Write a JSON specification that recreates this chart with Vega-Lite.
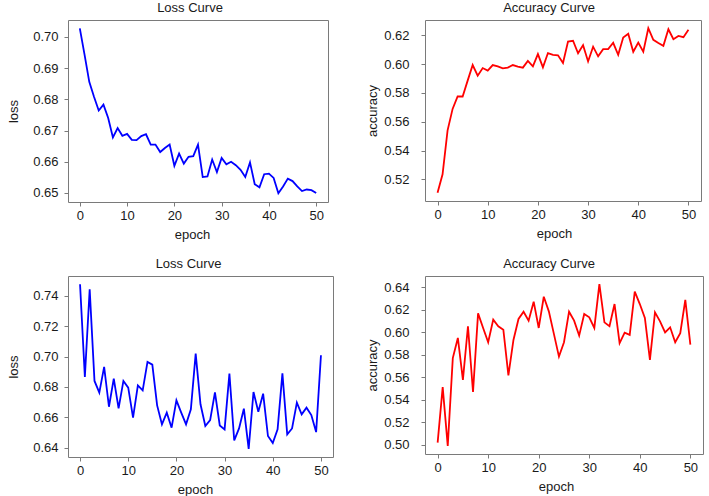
{
  "$schema": "https://vega.github.io/schema/vega-lite/v6.json",
  "padding": {"left": 7, "top": 1, "right": 0, "bottom": 0},
  "background": "white",
  "bounds": "flush",
  "columns": 2,
  "spacing": {"row": 74, "column": 92},
  "config": {
    "font": "Liberation Sans",
    "view": {"stroke": "#7a7a7a", "strokeWidth": 1},
    "axis": {"grid": false, "domain": false, "tickColor": "#7a7a7a", "tickSize": 4, "labelFontSize": 13, "titleFontSize": 13, "labelColor": "#1a1a1a", "titleColor": "#1a1a1a", "titleFontWeight": "normal", "labelPadding": 3},
    "axisY": {"labelPadding": 6, "titlePadding": 12},
    "axisX": {"titlePadding": 6},
    "title": {"fontSize": 13, "fontWeight": "normal", "color": "#1a1a1a", "offset": 5, "baseline": "alphabetic"}
  },
  "datasets": {
    "loss1": [
      {"epoch":0,"loss":0.7027},{"epoch":1,"loss":0.6943},{"epoch":2,"loss":0.6856},{"epoch":3,"loss":0.6808},{"epoch":4,"loss":0.6764},{"epoch":5,"loss":0.6783},{"epoch":6,"loss":0.6740},{"epoch":7,"loss":0.6678},{"epoch":8,"loss":0.6708},{"epoch":9,"loss":0.6683},{"epoch":10,"loss":0.6689},{"epoch":11,"loss":0.6670},{"epoch":12,"loss":0.6669},{"epoch":13,"loss":0.6682},{"epoch":14,"loss":0.6688},{"epoch":15,"loss":0.6655},{"epoch":16,"loss":0.6655},{"epoch":17,"loss":0.6631},{"epoch":18,"loss":0.6644},{"epoch":19,"loss":0.6655},{"epoch":20,"loss":0.6587},{"epoch":21,"loss":0.6626},{"epoch":22,"loss":0.6594},{"epoch":23,"loss":0.6616},{"epoch":24,"loss":0.6618},{"epoch":25,"loss":0.6655},{"epoch":26,"loss":0.6551},{"epoch":27,"loss":0.6553},{"epoch":28,"loss":0.6607},{"epoch":29,"loss":0.6567},{"epoch":30,"loss":0.6612},{"epoch":31,"loss":0.6592},{"epoch":32,"loss":0.6600},{"epoch":33,"loss":0.6589},{"epoch":34,"loss":0.6574},{"epoch":35,"loss":0.6551},{"epoch":36,"loss":0.6598},{"epoch":37,"loss":0.6528},{"epoch":38,"loss":0.6518},{"epoch":39,"loss":0.6560},{"epoch":40,"loss":0.6562},{"epoch":41,"loss":0.6548},{"epoch":42,"loss":0.6499},{"epoch":43,"loss":0.6521},{"epoch":44,"loss":0.6546},{"epoch":45,"loss":0.6538},{"epoch":46,"loss":0.6521},{"epoch":47,"loss":0.6506},{"epoch":48,"loss":0.6511},{"epoch":49,"loss":0.6509},{"epoch":50,"loss":0.6500}
    ],
    "acc1": [
      {"epoch":0,"accuracy":0.5108},{"epoch":1,"accuracy":0.5236},{"epoch":2,"accuracy":0.5540},{"epoch":3,"accuracy":0.5689},{"epoch":4,"accuracy":0.5775},{"epoch":5,"accuracy":0.5775},{"epoch":6,"accuracy":0.5885},{"epoch":7,"accuracy":0.5993},{"epoch":8,"accuracy":0.5919},{"epoch":9,"accuracy":0.5972},{"epoch":10,"accuracy":0.5954},{"epoch":11,"accuracy":0.5993},{"epoch":12,"accuracy":0.5984},{"epoch":13,"accuracy":0.5970},{"epoch":14,"accuracy":0.5975},{"epoch":15,"accuracy":0.5993},{"epoch":16,"accuracy":0.5982},{"epoch":17,"accuracy":0.5975},{"epoch":18,"accuracy":0.6021},{"epoch":19,"accuracy":0.5984},{"epoch":20,"accuracy":0.6069},{"epoch":21,"accuracy":0.5977},{"epoch":22,"accuracy":0.6076},{"epoch":23,"accuracy":0.6064},{"epoch":24,"accuracy":0.6060},{"epoch":25,"accuracy":0.6007},{"epoch":26,"accuracy":0.6156},{"epoch":27,"accuracy":0.6161},{"epoch":28,"accuracy":0.6074},{"epoch":29,"accuracy":0.6131},{"epoch":30,"accuracy":0.6018},{"epoch":31,"accuracy":0.6120},{"epoch":32,"accuracy":0.6053},{"epoch":33,"accuracy":0.6103},{"epoch":34,"accuracy":0.6103},{"epoch":35,"accuracy":0.6147},{"epoch":36,"accuracy":0.6064},{"epoch":37,"accuracy":0.6184},{"epoch":38,"accuracy":0.6209},{"epoch":39,"accuracy":0.6085},{"epoch":40,"accuracy":0.6149},{"epoch":41,"accuracy":0.6085},{"epoch":42,"accuracy":0.6248},{"epoch":43,"accuracy":0.6168},{"epoch":44,"accuracy":0.6145},{"epoch":45,"accuracy":0.6126},{"epoch":46,"accuracy":0.6241},{"epoch":47,"accuracy":0.6172},{"epoch":48,"accuracy":0.6195},{"epoch":49,"accuracy":0.6186},{"epoch":50,"accuracy":0.6237}
    ],
    "loss2": [
      {"epoch":0,"loss":0.7477},{"epoch":1,"loss":0.6866},{"epoch":2,"loss":0.7444},{"epoch":3,"loss":0.6840},{"epoch":4,"loss":0.6763},{"epoch":5,"loss":0.6932},{"epoch":6,"loss":0.6670},{"epoch":7,"loss":0.6855},{"epoch":8,"loss":0.6659},{"epoch":9,"loss":0.6840},{"epoch":10,"loss":0.6796},{"epoch":11,"loss":0.6598},{"epoch":12,"loss":0.6811},{"epoch":13,"loss":0.6778},{"epoch":14,"loss":0.6965},{"epoch":15,"loss":0.6947},{"epoch":16,"loss":0.6679},{"epoch":17,"loss":0.6554},{"epoch":18,"loss":0.6631},{"epoch":19,"loss":0.6532},{"epoch":20,"loss":0.6712},{"epoch":21,"loss":0.6631},{"epoch":22,"loss":0.6554},{"epoch":23,"loss":0.6653},{"epoch":24,"loss":0.7020},{"epoch":25,"loss":0.6686},{"epoch":26,"loss":0.6543},{"epoch":27,"loss":0.6582},{"epoch":28,"loss":0.6765},{"epoch":29,"loss":0.6547},{"epoch":30,"loss":0.6521},{"epoch":31,"loss":0.6888},{"epoch":32,"loss":0.6448},{"epoch":33,"loss":0.6527},{"epoch":34,"loss":0.6657},{"epoch":35,"loss":0.6393},{"epoch":36,"loss":0.6767},{"epoch":37,"loss":0.6637},{"epoch":38,"loss":0.6756},{"epoch":39,"loss":0.6477},{"epoch":40,"loss":0.6431},{"epoch":41,"loss":0.6521},{"epoch":42,"loss":0.6890},{"epoch":43,"loss":0.6488},{"epoch":44,"loss":0.6527},{"epoch":45,"loss":0.6697},{"epoch":46,"loss":0.6620},{"epoch":47,"loss":0.6664},{"epoch":48,"loss":0.6615},{"epoch":49,"loss":0.6503},{"epoch":50,"loss":0.7009}
    ],
    "acc2": [
      {"epoch":0,"accuracy":0.5018},{"epoch":1,"accuracy":0.5512},{"epoch":2,"accuracy":0.4988},{"epoch":3,"accuracy":0.5770},{"epoch":4,"accuracy":0.5950},{"epoch":5,"accuracy":0.5577},{"epoch":6,"accuracy":0.6054},{"epoch":7,"accuracy":0.5468},{"epoch":8,"accuracy":0.6169},{"epoch":9,"accuracy":0.6039},{"epoch":10,"accuracy":0.5912},{"epoch":11,"accuracy":0.6113},{"epoch":12,"accuracy":0.6054},{"epoch":13,"accuracy":0.6024},{"epoch":14,"accuracy":0.5616},{"epoch":15,"accuracy":0.5932},{"epoch":16,"accuracy":0.6119},{"epoch":17,"accuracy":0.6184},{"epoch":18,"accuracy":0.6104},{"epoch":19,"accuracy":0.6273},{"epoch":20,"accuracy":0.6039},{"epoch":21,"accuracy":0.6317},{"epoch":22,"accuracy":0.6187},{"epoch":23,"accuracy":0.5986},{"epoch":24,"accuracy":0.5784},{"epoch":25,"accuracy":0.5912},{"epoch":26,"accuracy":0.6184},{"epoch":27,"accuracy":0.6104},{"epoch":28,"accuracy":0.5971},{"epoch":29,"accuracy":0.6163},{"epoch":30,"accuracy":0.6134},{"epoch":31,"accuracy":0.6039},{"epoch":32,"accuracy":0.6430},{"epoch":33,"accuracy":0.6089},{"epoch":34,"accuracy":0.6054},{"epoch":35,"accuracy":0.6252},{"epoch":36,"accuracy":0.5903},{"epoch":37,"accuracy":0.5997},{"epoch":38,"accuracy":0.5977},{"epoch":39,"accuracy":0.6362},{"epoch":40,"accuracy":0.6252},{"epoch":41,"accuracy":0.6128},{"epoch":42,"accuracy":0.5755},{"epoch":43,"accuracy":0.6178},{"epoch":44,"accuracy":0.6098},{"epoch":45,"accuracy":0.6000},{"epoch":46,"accuracy":0.6045},{"epoch":47,"accuracy":0.5912},{"epoch":48,"accuracy":0.5992},{"epoch":49,"accuracy":0.6290},{"epoch":50,"accuracy":0.5891}
    ]
  },
  "concat": [
    {
      "title": {"text": "Loss Curve", "dx": -8},
      "width": 260, "height": 182,
      "data": {"name": "loss1"},
      "mark": {"type": "line", "color": "#0000ff", "strokeWidth": 1.8},
      "encoding": {
        "x": {"field": "epoch", "type": "quantitative", "scale": {"domain": [-2.5, 52.5], "nice": false, "zero": false}, "axis": {"values": [0,10,20,30,40,50], "title": "epoch", "titleX": 124}},
        "y": {"field": "loss", "type": "quantitative", "scale": {"domain": [0.6471, 0.7054], "nice": false, "zero": false}, "axis": {"values": [0.65,0.66,0.67,0.68,0.69,0.70], "format": ".2f", "title": "loss"}}
      }
    },
    {
      "title": {"text": "Accuracy Curve", "dx": -14},
      "width": 276, "height": 181,
      "data": {"name": "acc1"},
      "mark": {"type": "line", "color": "#ff0000", "strokeWidth": 1.8},
      "encoding": {
        "x": {"field": "epoch", "type": "quantitative", "scale": {"domain": [-2.5, 52.5], "nice": false, "zero": false}, "axis": {"values": [0,10,20,30,40,50], "title": "epoch", "titleX": 129}},
        "y": {"field": "accuracy", "type": "quantitative", "scale": {"domain": [0.5051, 0.6305], "nice": false, "zero": false}, "axis": {"values": [0.52,0.54,0.56,0.58,0.60,0.62], "format": ".2f", "title": "accuracy", "labelPadding": 12, "titlePadding": 4}}
      }
    },
    {
      "title": {"text": "Loss Curve", "dx": -12},
      "width": 265, "height": 181,
      "data": {"name": "loss2"},
      "mark": {"type": "line", "color": "#0000ff", "strokeWidth": 1.8},
      "encoding": {
        "x": {"field": "epoch", "type": "quantitative", "scale": {"domain": [-2.5, 52.5], "nice": false, "zero": false}, "axis": {"values": [0,10,20,30,40,50], "title": "epoch", "titleX": 127}},
        "y": {"field": "loss", "type": "quantitative", "scale": {"domain": [0.6339, 0.7531], "nice": false, "zero": false}, "axis": {"values": [0.64,0.66,0.68,0.70,0.72,0.74], "format": ".2f", "title": "loss"}}
      }
    },
    {
      "title": {"text": "Accuracy Curve", "dx": -15},
      "width": 278, "height": 178,
      "data": {"name": "acc2"},
      "mark": {"type": "line", "color": "#ff0000", "strokeWidth": 1.8},
      "encoding": {
        "x": {"field": "epoch", "type": "quantitative", "scale": {"domain": [-2.5, 52.5], "nice": false, "zero": false}, "axis": {"values": [0,10,20,30,40,50], "title": "epoch", "titleX": 131}},
        "y": {"field": "accuracy", "type": "quantitative", "scale": {"domain": [0.4916, 0.6502], "nice": false, "zero": false}, "axis": {"values": [0.50,0.52,0.54,0.56,0.58,0.60,0.62,0.64], "format": ".2f", "title": "accuracy", "labelPadding": 12, "titlePadding": 4}}
      }
    }
  ]
}
